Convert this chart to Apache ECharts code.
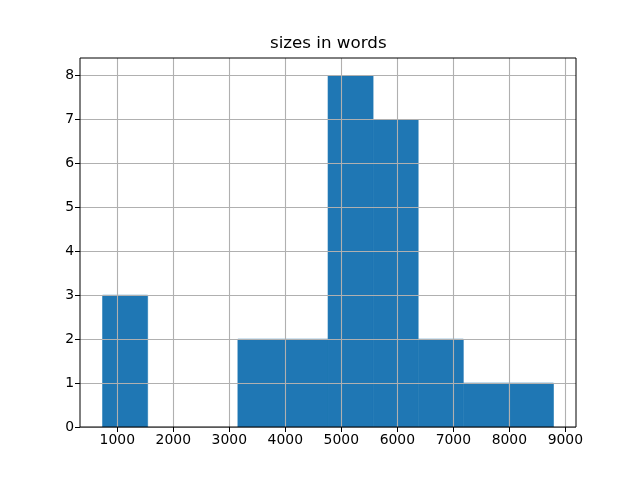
<!DOCTYPE html>
<html>
<head>
<meta charset="utf-8">
<script src="https://cdn.jsdelivr.net/npm/echarts@6/dist/echarts.min.js"></script>
<style>html,body{margin:0;padding:0;background:#fff;}#c{width:640px;height:480px;}</style>
</head>
<body>
<div id="c"></div>
<script>
const binEdges = [737, 1542, 2347, 3153, 3958, 4763, 5568, 6373, 7179, 7984, 8789];
const counts = [3, 0, 0, 2, 2, 8, 7, 2, 1, 1];
const xTicks = [1000, 2000, 3000, 4000, 5000, 6000, 7000, 8000, 9000];
const yTicks = [0, 1, 2, 3, 4, 5, 6, 7, 8];
const titleText = 'sizes in words';

const data = counts.map((c, i) => [binEdges[i], binEdges[i + 1], c]);
const font = 'DejaVu Sans';
const chart = echarts.init(document.getElementById('c'), null, {renderer: 'canvas'});
chart.setOption({
  animation: false,
  backgroundColor: '#fff',
  title: {
    text: titleText, left: 265, top: 30,
    textStyle: {fontFamily: font, fontSize: 16.7, fontWeight: 'normal', color: '#000'}
  },
  grid: {left: 80, right: 64, top: 58, bottom: 53, show: true, borderColor: '#000', borderWidth: 1, z: 20, backgroundColor: 'transparent'},
  xAxis: {
    type: 'value', min: 334, max: 9191, z: 10,
    axisLine: {show: false},
    axisTick: {show: true, inside: false, length: 5, customValues: xTicks, lineStyle: {color: '#000', width: 1}},
    axisLabel: {customValues: xTicks, formatter: v => String(v), fontFamily: font, fontSize: 13.9, color: '#000', margin: 6},
    splitLine: {show: true, lineStyle: {color: '#b0b0b0', width: 1.1}}
  },
  yAxis: {
    type: 'value', min: 0, max: 8.4, z: 10,
    axisLine: {show: false},
    axisTick: {show: true, inside: false, length: 5, customValues: yTicks, lineStyle: {color: '#000', width: 1}},
    axisLabel: {customValues: yTicks, formatter: v => String(v), fontFamily: font, fontSize: 13.9, color: '#000', margin: 6},
    splitLine: {show: true, lineStyle: {color: '#b0b0b0', width: 1.1}}
  },
  series: [{
    type: 'custom', z: 1,
    encode: {x: [0, 1], y: 2},
    data: data,
    renderItem: function (params, api) {
      if (!api.value(2)) return null;
      const p0 = api.coord([api.value(0), api.value(2)]);
      const p1 = api.coord([api.value(1), 0]);
      return {
        type: 'rect',
        shape: {x: p0[0], y: p0[1], width: p1[0] - p0[0], height: p1[1] - p0[1]},
        style: {fill: '#1f77b4', stroke: '#1f77b4', lineWidth: 0.6}
      };
    }
  }]
});
</script>
</body>
</html>
